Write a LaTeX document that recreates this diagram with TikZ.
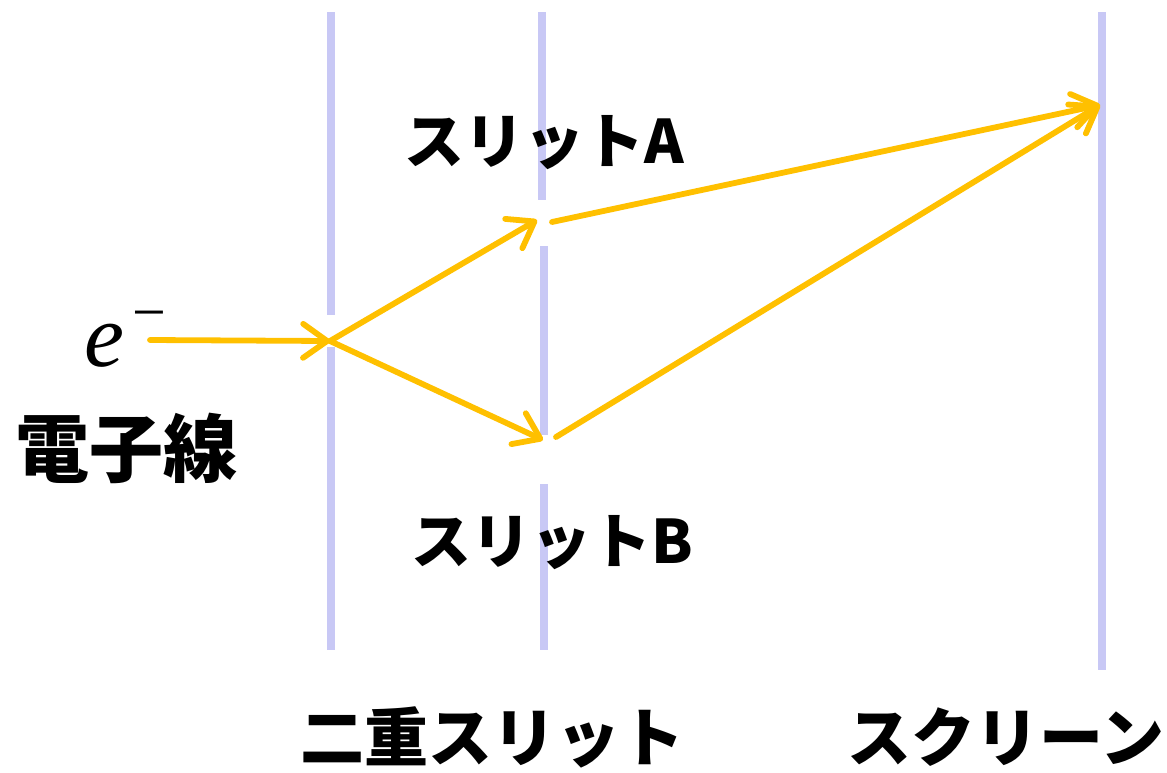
\documentclass[tikz,border=0pt]{standalone}
\usepackage{fontspec}
\usetikzlibrary{arrows.meta}
\newfontfamily\jp{Noto Sans CJK JP}
\newfontfamily\serif{Liberation Serif}
\definecolor{slitcol}{HTML}{C8C8F5}
\definecolor{beamcol}{HTML}{FFC000}
\tikzset{
  wall/.style={draw=slitcol, line width=3.7pt},
  beam/.style={draw=beamcol, line width=2.9pt, line cap=round,
    -{Straight Barb[length=12pt,width=17pt,round]}},
  lbl/.style={font=\jp\bfseries\fontsize{30pt}{30pt}\selectfont, inner sep=0pt, anchor=center},
}
\begin{document}
\begin{tikzpicture}[x=0.5pt,y=-0.5pt]
\useasboundingbox (0,0) rectangle (1167,772);
% walls
\path[wall] (331,12) -- (331,315);
\path[wall] (331,347) -- (331,650);
\path[wall] (542,12) -- (542,200);
\path[wall] (544,246) -- (544,435);
\path[wall] (544,484) -- (544,650);
\path[wall] (1102,12) -- (1102,670);
% labels
\node[lbl] (la) at (544,143) {スリットA};
\node[lbl] (lb) at (552,543) {スリットB};
\node[lbl, font=\jp\bfseries\fontsize{37pt}{37pt}\selectfont] (lbeam) at (126,448) {電子線};
\node[lbl, font=\jp\bfseries\fontsize{32pt}{32pt}\selectfont] (ldouble) at (492,737) {二重スリット};
\node[lbl, font=\jp\bfseries\fontsize{32pt}{32pt}\selectfont] (lscreen) at (1006,737) {スクリーン};
\node[inner sep=0pt, anchor=base west] (el) at (84,366) {\serif\fontsize{45pt}{45pt}\selectfont\itshape e\hspace{4pt}\raisebox{17pt}{\upshape\fontsize{30pt}{30pt}\selectfont −}};
% beams
\coordinate (src) at (150,340);
\coordinate (O) at (330,341);
\coordinate (A) at (537,220);
\coordinate (A2) at (552,222);
\coordinate (B) at (543,440);
\coordinate (B2) at (556,437);
\coordinate (S) at (1100,105);
\draw[beam] (src) -- (O);
\draw[beam] (O) -- (A);
\draw[beam] (O) -- (B);
\draw[beam] (A2) -- (S);
\draw[beam] (B2) -- (S);
\end{tikzpicture}
\end{document}
